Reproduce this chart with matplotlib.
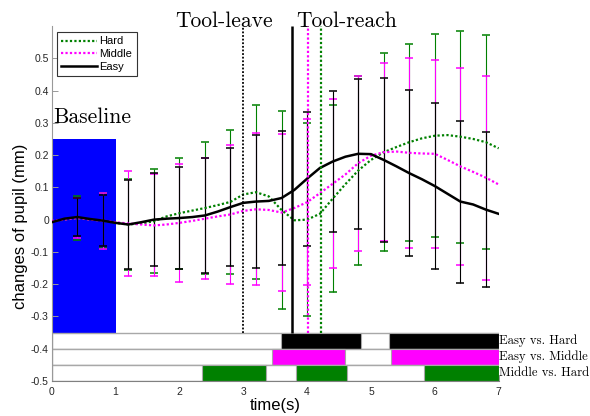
import numpy as np
import matplotlib
matplotlib.use("Agg")
import matplotlib.pyplot as plt
from matplotlib.patches import Rectangle
from matplotlib.ticker import FuncFormatter

plt.rcParams["font.family"] = ["Liberation Sans", "DejaVu Sans"]

# Mean pupil change (mm), sampled every 0.2 s from 0 to 7 s
t = np.round(np.arange(0, 7.01, 0.2), 1)
easy = [-0.008, 0.003, 0.008, 0.002, -0.003, -0.010, -0.015, -0.008, 0.000, 0.003,
        0.005, 0.008, 0.013, 0.025, 0.039, 0.052, 0.056, 0.058, 0.067, 0.092,
        0.127, 0.160, 0.180, 0.195, 0.204, 0.203, 0.185, 0.165, 0.144, 0.125,
        0.104, 0.080, 0.056, 0.047, 0.031, 0.018]
middle = [-0.004, 0.000, 0.005, 0.000, -0.003, -0.008, -0.012, -0.015, -0.018, -0.015,
          -0.010, -0.004, 0.003, 0.010, 0.016, 0.027, 0.032, 0.030, 0.022, 0.036,
          0.054, 0.082, 0.111, 0.140, 0.175, 0.198, 0.209, 0.211, 0.207, 0.205,
          0.204, 0.185, 0.165, 0.148, 0.130, 0.109]
hard = [-0.005, 0.000, 0.005, 0.000, -0.003, -0.010, -0.015, -0.012, -0.005, 0.010,
        0.020, 0.028, 0.036, 0.045, 0.055, 0.078, 0.085, 0.072, 0.030, -0.002,
        0.000, 0.018, 0.065, 0.110, 0.152, 0.185, 0.209, 0.225, 0.240, 0.252,
        0.260, 0.262, 0.257, 0.250, 0.240, 0.221]

# Error bars (half-width, mm) at every 0.4 s
err_t = [0.4, 0.8, 1.2, 1.6, 2.0, 2.4, 2.8, 3.2, 3.6, 4.0, 4.4, 4.8, 5.2, 5.6, 6.0, 6.4, 6.8]
easy_se = [0.060, 0.080, 0.138, 0.144, 0.158, 0.177, 0.182, 0.205, 0.207, 0.208,
           0.219, 0.232, 0.255, 0.257, 0.258, 0.251, 0.241]
middle_se = [0.063, 0.087, 0.162, 0.158, 0.183, 0.187, 0.215, 0.235, 0.244, 0.257,
             0.262, 0.271, 0.276, 0.294, 0.292, 0.306, 0.316]
hard_se = [0.068, 0.085, 0.140, 0.161, 0.172, 0.205, 0.224, 0.269, 0.307, 0.300,
           0.290, 0.292, 0.306, 0.305, 0.314, 0.328, 0.331]

# Event markers (s)
leave_time = 3.0
reach_times = [3.77, 4.01, 4.21]   # Easy, Middle, Hard

# Significant intervals for the pairwise comparisons (s)
sig_labels = ["Easy vs. Hard", "Easy vs. Middle", "Middle vs. Hard"]
sig_spans = [
    [(3.59, 4.84), (5.29, 7.0)],
    [(3.45, 4.59), (5.31, 7.0)],
    [(2.35, 3.36), (3.82, 4.62), (5.83, 7.0)],
]

C_EASY, C_MID, C_HARD = "black", "#ff00ff", "#008000"
GREY = "#a8a8a8"
SERIF = "cmr10"

fig = plt.figure(figsize=(5.9, 4.16), dpi=100)
ax = fig.add_axes([0.0876, 0.0841, 0.7576, 0.8534])
ax.set_xlim(0, 7)
ax.set_ylim(-0.5, 0.6)

# Baseline window
ax.add_patch(Rectangle((0, -0.35), 1.0, 0.60, facecolor="#0000ff", edgecolor="none", zorder=1))
ax.text(0.02, 0.3, "Baseline", fontfamily=SERIF, fontsize=15.5, va="baseline", ha="left")

# Error bars
idx = np.rint(np.array(err_t) / 0.2).astype(int)
for series, se, col in [(hard, hard_se, C_HARD), (middle, middle_se, C_MID), (easy, easy_se, C_EASY)]:
    ax.errorbar(err_t, np.array(series)[idx], yerr=se, fmt="none", ecolor=col,
                elinewidth=0.8, capsize=2.6, capthick=1.1, zorder=2)

# Mean curves
dot = (0, (1, 1))
ax.plot(t, hard, color=C_HARD, lw=1.6, ls=dot, label="Hard", zorder=3)
ax.plot(t, middle, color=C_MID, lw=1.6, ls=dot, label="Middle", zorder=3)
ax.plot(t, easy, color=C_EASY, lw=1.8, label="Easy", zorder=3)

# Event lines
ax.vlines(leave_time, -0.35, 0.6, color="black", lw=1.3, linestyles=[dot], zorder=4)
ax.vlines(reach_times[0], -0.35, 0.6, color=C_EASY, lw=1.8, zorder=4)
ax.vlines(reach_times[1], -0.35, 0.6, color=C_MID, lw=1.6, linestyles=[dot], zorder=4)
ax.vlines(reach_times[2], -0.35, 0.6, color=C_HARD, lw=1.6, linestyles=[dot], zorder=4)
ax.text(1.94, 0.598, "Tool-leave", fontfamily=SERIF, fontsize=15.5, va="baseline", ha="left", clip_on=False)
ax.text(3.83, 0.598, "Tool-reach", fontfamily=SERIF, fontsize=15.5, va="baseline", ha="left", clip_on=False)

# Significance rows
for i, (lab, spans, col) in enumerate(zip(sig_labels, sig_spans, [C_EASY, C_MID, C_HARD])):
    y0 = -0.40 - 0.05 * i
    ax.add_patch(Rectangle((0, y0), 7.0, 0.05, facecolor="white", edgecolor=GREY, lw=1.0, zorder=2))
    for a, b in spans:
        ax.add_patch(Rectangle((a, y0), b - a, 0.05, facecolor=col, edgecolor=GREY, lw=0.8, zorder=2))
    ax.text(7.01, y0 + 0.025, lab, fontfamily=SERIF, fontsize=9.2, va="center", ha="left", clip_on=False)

# Axes styling
for s in ("top", "right"):
    ax.spines[s].set_visible(False)
ax.spines["left"].set_color("#999999")
ax.spines["bottom"].set_color("#808080")
ax.set_xticks(range(8))
ax.set_yticks(np.round(np.arange(-0.5, 0.51, 0.1), 1))
ax.yaxis.set_major_formatter(FuncFormatter(lambda v, p: "0" if abs(v) < 1e-9 else f"{v:.1f}"))
ax.tick_params(direction="in", length=4, width=0.7, color="#999999", labelsize=7.5,
               labelcolor="#262626")
ax.tick_params(axis="y", pad=2)
ax.tick_params(axis="x", pad=4)

ax.set_xlabel("time(s)", fontsize=12)
ax.set_ylabel("changes of pupil (mm)", fontsize=12)
ax.xaxis.set_label_coords(0.5, -0.048)
ax.yaxis.set_label_coords(-0.053, 0.435)

leg = ax.legend(loc="upper left", bbox_to_anchor=(0.012, 0.983), borderaxespad=0,
                fontsize=8, fancybox=False, framealpha=1, edgecolor="#333333",
                handlelength=3.2, handletextpad=0.2, labelspacing=0.25, borderpad=0.4)
leg.get_frame().set_linewidth(0.8)

fig.savefig("out.png", dpi=100)
